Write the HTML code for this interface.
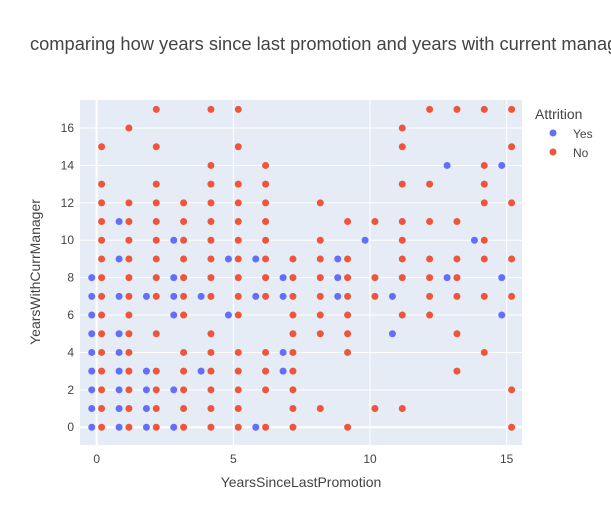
<!DOCTYPE html>
<html><head><meta charset="utf-8"><style>
body{margin:0;background:#fff;font-family:"Liberation Sans",Arial,sans-serif;overflow:hidden;}
svg text{font-family:"Liberation Sans",Arial,sans-serif;fill:#444;}
</style></head><body>
<svg id="chart" width="611" height="525" xmlns="http://www.w3.org/2000/svg">
<rect width="611" height="525" fill="#fff"/>
<text x="30" y="50" font-size="18.3">comparing how years since last promotion and years with current manager</text>
<rect x="80" y="100" width="442" height="345" fill="#e5ecf6"/>
<g id="grid"></g>
<g id="marks"></g>
<text x="301" y="487" font-size="14" text-anchor="middle">YearsSinceLastPromotion</text>
<text transform="translate(40,272) rotate(-90)" font-size="14" text-anchor="middle">YearsWithCurrManager</text>
<g>
<text x="535" y="119" font-size="14">Attrition</text>
<g><circle cx="553" cy="133" r="3.5" fill="#636efa"/><text x="573" y="138" font-size="12">Yes</text></g>
<g><circle cx="553" cy="152" r="3.5" fill="#EF553B"/><text x="573" y="157" font-size="12">No</text></g>
</g>
</svg>
<script>
const promotionYears=[0,1,2,3,4,5,6,7,8,9,10,11,12,13,14,15];
const yesValues=[[8,7,6,5,4,3,2,1,0],[11,9,7,5,4,3,2,1,0],[7,3,2,1,0],[10,8,7,6,2,0],[7,3],[9,6],[9,7,0],[8,7,4,3],[],[9,8,7],[10],[7,5],[],[14,8],[10],[14,8,6]];
const noValues=[[15,13,12,11,10,9,8,7,6,5,4,3,2,1,0],[16,12,11,10,9,8,7,6,5,4,3,2,1,0],[17,15,13,12,11,10,9,8,7,5,3,2,1,0],[12,11,10,9,8,7,6,4,3,2,1,0],[17,14,13,12,11,10,9,8,7,5,4,3,2,1,0],[17,15,13,12,11,10,9,8,7,6,4,3,2,1,0],[14,13,12,11,10,9,8,7,4,3,2,0],[9,8,7,6,5,4,3,2,1,0],[12,10,9,8,7,6,5,1],[11,9,8,7,6,5,4,0],[11,8,7,1],[16,15,13,11,10,9,8,6,1],[17,13,11,9,8,7,6],[17,11,9,8,7,5,3],[17,14,13,12,10,9,7,4],[17,15,12,9,7,2,0]];
const xTicks=[0,5,10,15];
const yTicks=[0,2,4,6,8,10,12,14,16];
const NS="http://www.w3.org/2000/svg";
const X0=80,X1=522,Y0=445,Y1=100,xmin=-0.61,xmax=15.56,ymin=-0.95,ymax=17.5;
function xs(v){return X0+(v-xmin)/(xmax-xmin)*(X1-X0);}
function ys(v){return Y0-(v-ymin)/(ymax-ymin)*(Y0-Y1);}
const grid=document.getElementById('grid'),marks=document.getElementById('marks');
function mk(t,a,p){const e=document.createElementNS(NS,t);for(const k in a)e.setAttribute(k,a[k]);p.appendChild(e);return e;}
yTicks.forEach(t=>{
  const l=mk('line',{x1:X0,x2:X1,y1:ys(t),y2:ys(t),stroke:'#fff','stroke-width':t===0?2:1},grid);
  
  
  const tx=mk('text',{x:X0-6,y:ys(t)+4,'font-size':12,'text-anchor':'end'},grid);
  tx.textContent=t;
  
  
});
xTicks.forEach(t=>{
  const l=mk('line',{x1:xs(t),x2:xs(t),y1:Y0,y2:Y1,stroke:'#fff','stroke-width':t===0?2:1},grid);
  
  
  const tx=mk('text',{x:xs(t),y:Y0+18,'font-size':12,'text-anchor':'middle'},grid);
  tx.textContent=t;
  
  
});
promotionYears.forEach((x,i)=>{
  yesValues[i].forEach(y=>{
    const c=mk('circle',{cx:xs(x-0.18),cy:ys(y),r:3.5,fill:'#636efa'},marks);
    
    
  });
  noValues[i].forEach(y=>{
    const c=mk('circle',{cx:xs(x+0.18),cy:ys(y),r:3.5,fill:'#EF553B'},marks);
    
    
  });
});
</script>
</body></html>
